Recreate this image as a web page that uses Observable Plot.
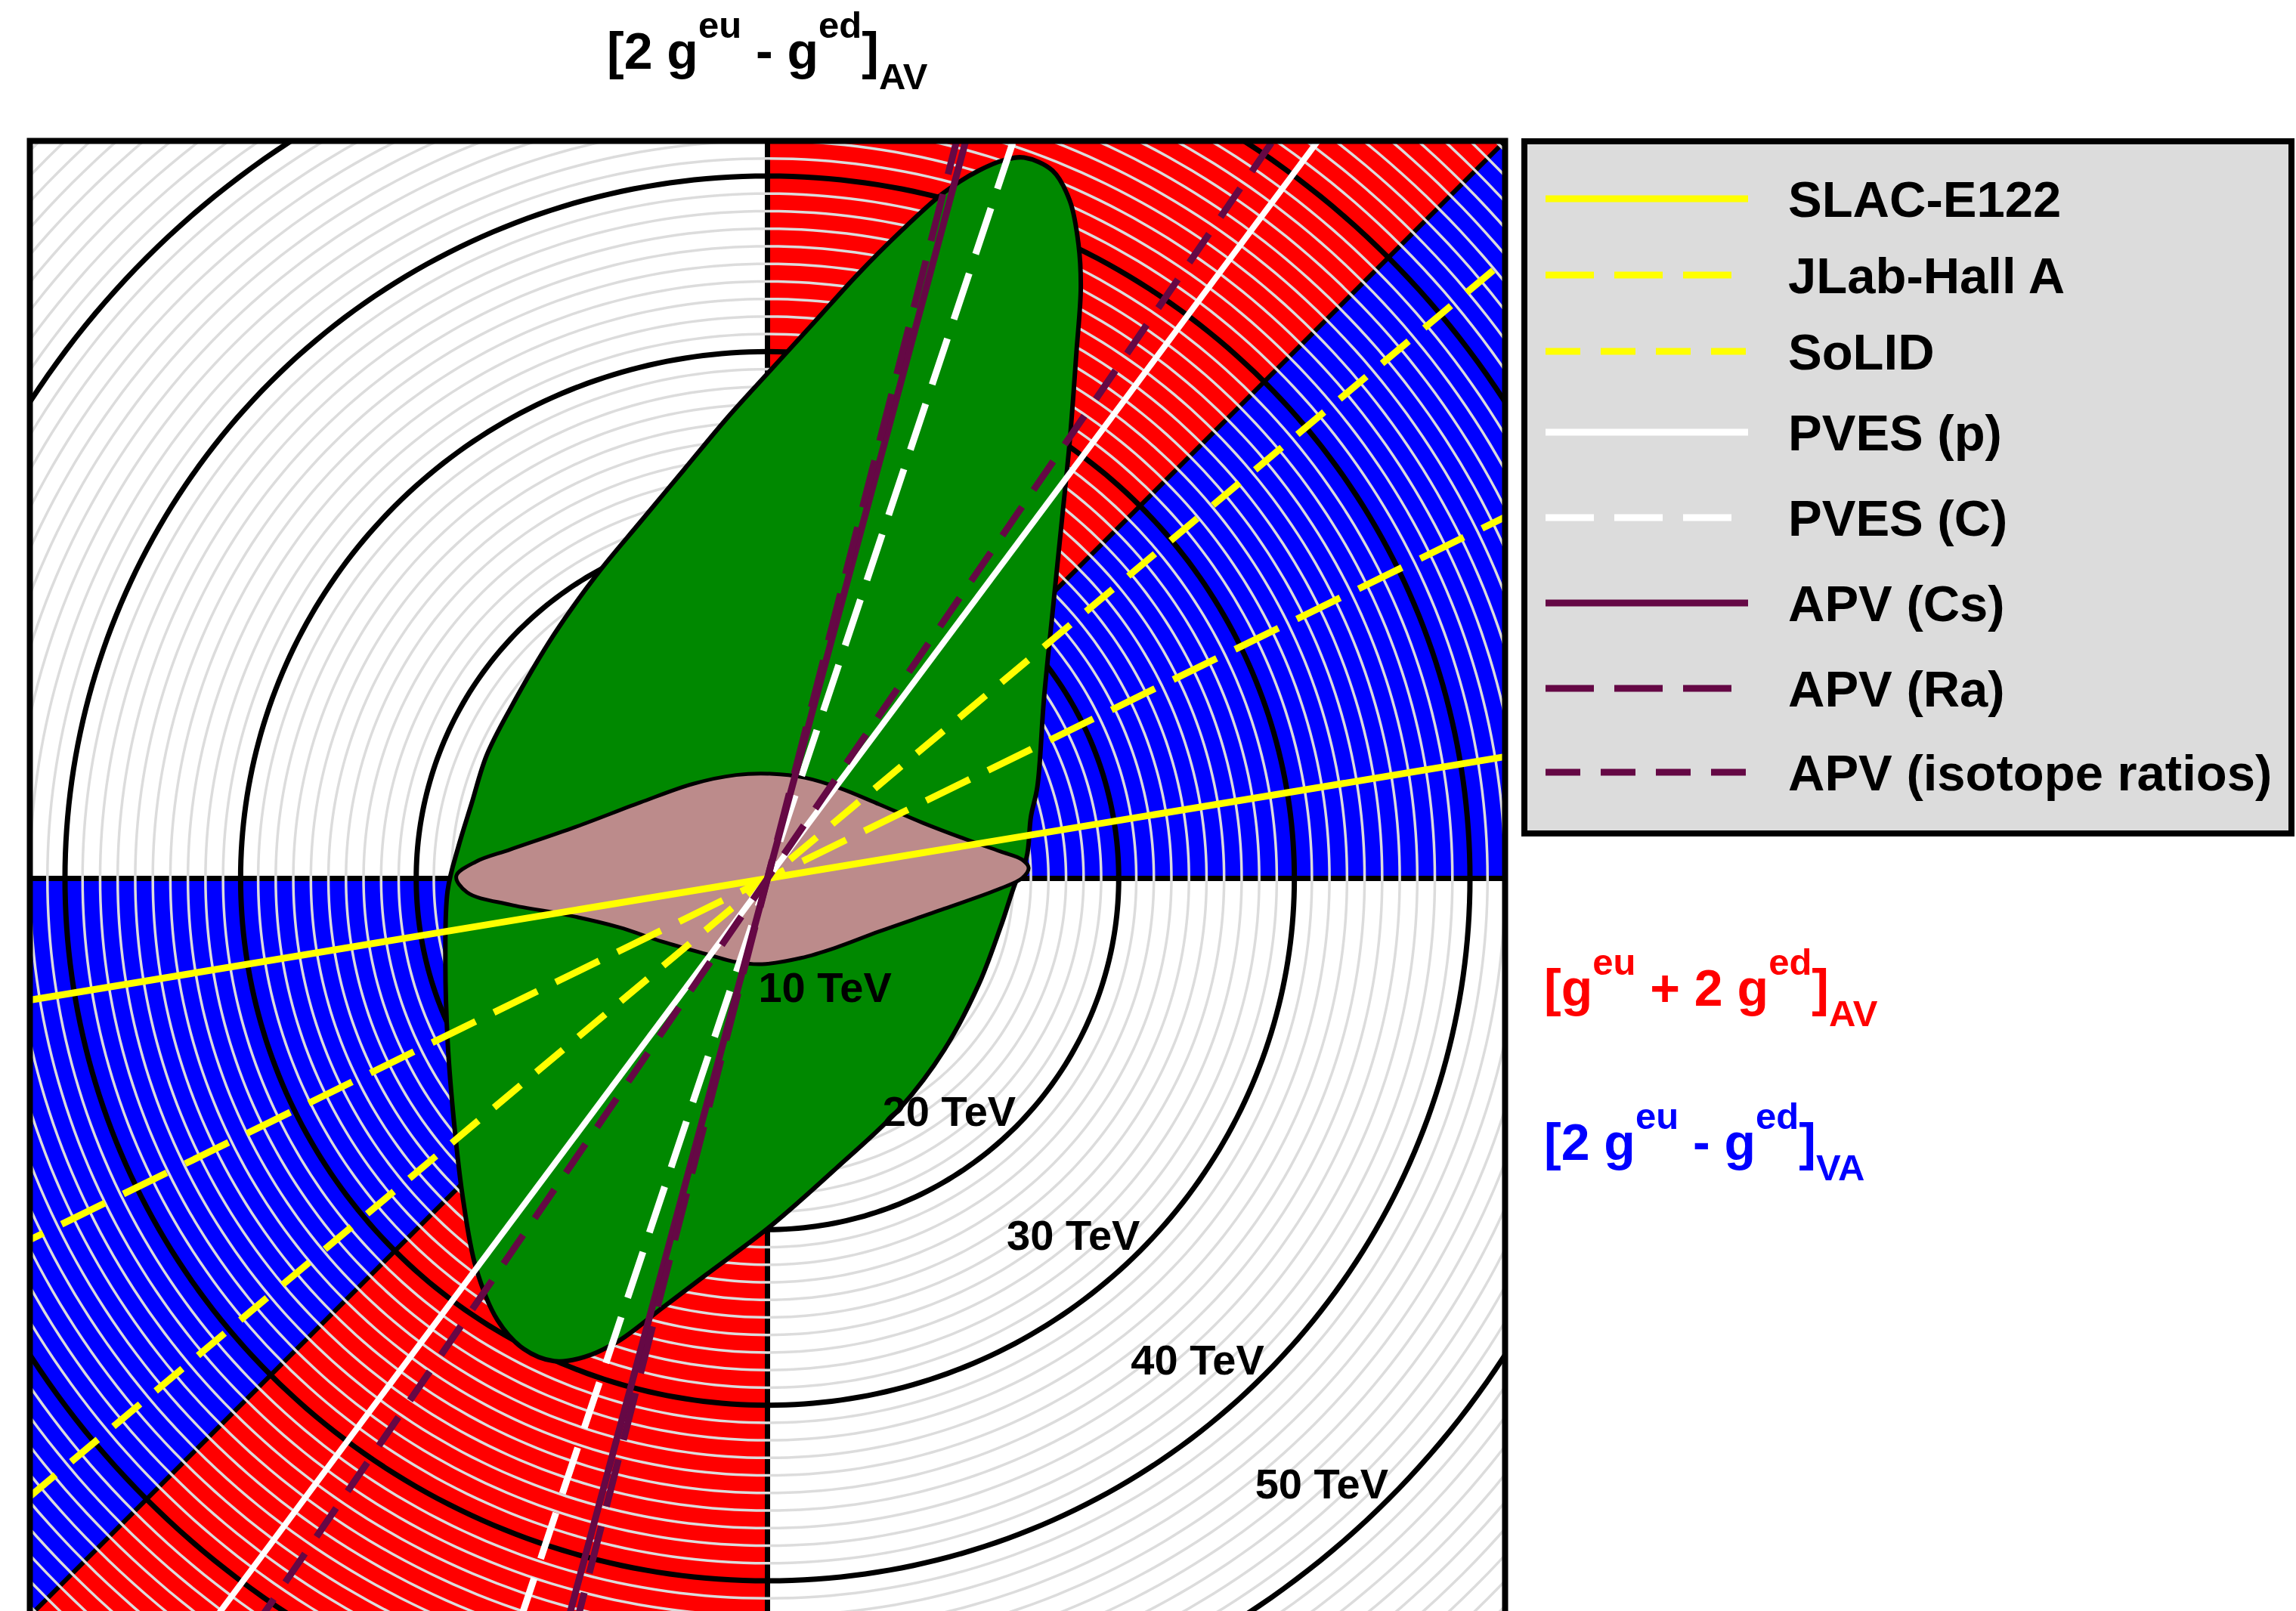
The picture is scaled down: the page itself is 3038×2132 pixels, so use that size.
<!DOCTYPE html>
<html>
<head>
<meta charset="utf-8">
<script src="https://cdn.jsdelivr.net/npm/d3@7"></script>
<script src="https://cdn.jsdelivr.net/npm/@observablehq/plot@0.6"></script>
<style>
  html, body { margin: 0; padding: 0; background: #fff; overflow: hidden; }
  #page { position: relative; width: 3038px; height: 2132px; overflow: hidden; }
  #chart { position: absolute; left: 0; top: 0; }
  #overlay { position: absolute; left: 0; top: 0; }
  #overlay text { white-space: pre; }
</style>
</head>
<body>
<div id="page"><div id="chart"></div></div>
<script>
// ---------------- DATA ----------------
// Experiments (legend order) and the slope of each constraint line through the origin
const experiments = ["SLAC-E122", "JLab-Hall A", "SoLID", "PVES (p)", "PVES (C)", "APV (Cs)", "APV (Ra)", "APV (isotope ratios)"];
const experimentSlopes = [0.165, 0.49, 0.838, 1.34, 3.0, 3.72, 3.9, 1.46];

// Mass-scale rings (TeV): labelled rings and the fine 1 TeV rings
const ringValues = [10, 20, 30, 40, 50];
const ringLabels = ["10 TeV", "20 TeV", "30 TeV", "40 TeV", "50 TeV"];
const fineRingValues = d3.range(1, 61);

// Coloured wedges (polar angle ranges, degrees)
const wedgeKinds = ["VA", "AV", "VA", "AV"];
const wedgeFrom = [0, 45, 180, 225];
const wedgeTo = [45, 90, 225, 270];

// Green region (outline, TeV units)
const greenX = [14.62, 16.23, 17.22, 17.71, 17.84, 17.59, 17.22, 16.73, 16.23, 15.74, 15.37, 15.0, 14.75, 14.13, 13.27, 12.03, 10.06, 7.59, 3.89, 0.18, -3.52, -5.99, -8.46, -10.43, -12.16, -13.89, -15.37, -16.61, -17.35, -17.84, -18.21, -18.34, -18.21, -17.6, -16.86, -15.99, -14.63, -12.16, -9.69, -7.23, -4.76, -2.29, 0.18, 2.65, 5.12, 7.59, 10.06, 12.03, 13.51];
const greenY = [41.05, 40.31, 38.58, 36.11, 33.64, 29.94, 25.0, 20.06, 15.12, 10.18, 5.24, 3.51, 1.18, -0.22, -2.78, -6.04, -9.77, -13.04, -16.53, -19.8, -22.59, -24.46, -26.33, -27.26, -27.49, -26.79, -25.16, -22.13, -18.17, -13.97, -9.31, -4.65, -0.68, 1.8, 4.22, 7.01, 9.69, 13.88, 17.34, 20.31, 23.27, 26.23, 28.95, 31.66, 34.38, 36.85, 39.07, 40.31, 40.92];

// Rosy region (outline, TeV units)
const roseX = [-17.72, -16.61, -14.63, -10.93, -7.23, -4.26, -1.79, 0.18, 2.16, 4.13, 6.36, 8.83, 11.29, 13.27, 14.5, 14.87, 14.5, 13.27, 10.06, 6.36, 3.89, 1.91, -0.31, -1.79, -3.52, -5.99, -8.46, -11.42, -14.63, -17.1];
const roseY = [0.13, 0.95, 1.65, 2.93, 4.33, 5.38, 5.89, 5.96, 5.73, 5.14, 4.22, 3.17, 2.23, 1.53, 1.07, 0.6, 0.02, -0.57, -1.73, -3.02, -3.94, -4.53, -4.88, -4.76, -4.3, -3.6, -2.78, -2.08, -1.5, -0.8];

// ---------------- STYLES ----------------
const wedgeColor = { VA: "#0000ff", AV: "#ff0000" };
const PURPLE = "#650845";
const LONG = "64,27", SHORT = "46,27";
const lineStyle = {
  "SLAC-E122":            { stroke: "#ffff00", dash: null,  width: 9 },
  "JLab-Hall A":          { stroke: "#ffff00", dash: LONG,  width: 9 },
  "SoLID":                { stroke: "#ffff00", dash: SHORT, width: 9 },
  "PVES (p)":             { stroke: "#ffffff", dash: null,  width: 8 },
  "PVES (C)":             { stroke: "#ffffff", dash: LONG,  width: 9 },
  "APV (Cs)":             { stroke: PURPLE,    dash: null,  width: 9 },
  "APV (Ra)":             { stroke: PURPLE,    dash: LONG,  width: 9 },
  "APV (isotope ratios)": { stroke: PURPLE,    dash: SHORT, width: 9 }
};
const FONT = '"Liberation Sans", Arial, Helvetica, sans-serif';

// ---------------- DERIVED TABLES ----------------
const rad = a => a * Math.PI / 180;
function circlePoints(radii) {
  const pts = [];
  for (const r of radii) for (let a = 0; a <= 360; a += 1) pts.push({ r, x: r * Math.cos(rad(a)), y: r * Math.sin(rad(a)) });
  return pts;
}
const FAR = 80;
const wedges = wedgeKinds.map((k, i) => {
  const pts = [{ x: 0, y: 0 }];
  for (let a = wedgeFrom[i]; a <= wedgeTo[i] + 1e-9; a += 2.5) pts.push({ x: FAR * Math.cos(rad(a)), y: FAR * Math.sin(rad(a)) });
  return { kind: k, pts };
});
// black boundary between the two wedge colours (45° and 225°)
const boundaryAngles = [wedgeTo[0], wedgeTo[2]];
const boundary = boundaryAngles.map(a => ({ x: FAR * Math.cos(rad(a)), y: FAR * Math.sin(rad(a)) }));
const green = greenX.map((x, i) => ({ x, y: greenY[i] }));
const rose = roseX.map((x, i) => ({ x, y: roseY[i] }));
const linesData = experiments.map((name, i) => {
  const t = Math.atan(experimentSlopes[i]);
  return { name, pts: [{ x: -FAR * Math.cos(t), y: -FAR * Math.sin(t) }, { x: FAR * Math.cos(t), y: FAR * Math.sin(t) }] };
});
const labelData = ringValues.map((r, i) => ({ r, label: ringLabels[i], x: r * Math.cos(rad(-45)), y: r * Math.sin(rad(-45)) }));

// ---------------- PLOT ----------------
const marks = [];
for (const w of wedges) marks.push(Plot.line(w.pts, { x: "x", y: "y", fill: wedgeColor[w.kind], stroke: "none", curve: "linear-closed", clip: true }));
marks.push(Plot.ruleX([0], { stroke: "black", strokeWidth: 7 }));
marks.push(Plot.ruleY([0], { stroke: "black", strokeWidth: 7 }));
marks.push(Plot.line(boundary, { x: "x", y: "y", stroke: "black", strokeWidth: 6, clip: true }));
marks.push(Plot.line(circlePoints(fineRingValues), { x: "x", y: "y", z: "r", stroke: "#dcdcdc", strokeWidth: 3.5, clip: true }));
marks.push(Plot.line(circlePoints(ringValues), { x: "x", y: "y", z: "r", stroke: "black", strokeWidth: 7, clip: true }));
marks.push(Plot.line(green, { x: "x", y: "y", fill: "#008800", stroke: "black", strokeWidth: 6, curve: "catmull-rom-closed", clip: true }));
marks.push(Plot.line(rose, { x: "x", y: "y", fill: "#bc8b8b", stroke: "black", strokeWidth: 5, curve: "catmull-rom-closed", clip: true }));
for (const l of linesData) {
  const s = lineStyle[l.name];
  const opts = { x: "x", y: "y", stroke: s.stroke, strokeWidth: s.width, strokeLinecap: "butt", clip: true };
  if (s.dash) opts.strokeDasharray = s.dash;
  marks.push(Plot.line(l.pts, opts));
}
marks.push(Plot.text(labelData, { x: "x", y: "y", text: "label", textAnchor: "end", lineAnchor: "middle", dy: -19, fontSize: 56, fontWeight: "bold", fontFamily: FONT, fill: "black" }));
marks.push(Plot.frame({ stroke: "black", strokeWidth: 8 }));

const chart = Plot.plot({
  width: 2000, height: 2150,
  marginLeft: 39, marginRight: 9, marginTop: 186, marginBottom: 12,
  x: { domain: [-42, 42], axis: null },
  y: { domain: [-42, 42], axis: null },
  style: { background: "transparent", overflow: "visible" },
  marks
});
document.getElementById("chart").appendChild(chart);

// ---------------- TITLE, SIDE LABELS, LEGEND ----------------
const svg = d3.select("#page").append("svg").attr("id", "overlay")
  .attr("width", 3038).attr("height", 2132)
  .attr("font-family", FONT).attr("font-weight", "bold");

function rich(x, y, parts, fill) {
  const t = svg.append("text").attr("x", x).attr("y", y).attr("fill", fill);
  let cur = 0;
  for (const p of parts) {
    const shift = p.k === "sup" ? -41 : p.k === "sub" ? 27 : 0;
    t.append("tspan").attr("dy", shift - cur).attr("font-size", p.k ? 49 : 68).text(p.t);
    cur = shift;
  }
}
rich(803, 91, [{ t: "[2 g" }, { t: "eu", k: "sup" }, { t: " - g" }, { t: "ed", k: "sup" }, { t: "]" }, { t: "AV", k: "sub" }], "black");
rich(2043, 1331, [{ t: "[g" }, { t: "eu", k: "sup" }, { t: " + 2 g" }, { t: "ed", k: "sup" }, { t: "]" }, { t: "AV", k: "sub" }], "#ff0000");
rich(2043, 1535, [{ t: "[2 g" }, { t: "eu", k: "sup" }, { t: " - g" }, { t: "ed", k: "sup" }, { t: "]" }, { t: "VA", k: "sub" }], "#0000ff");

svg.append("rect").attr("x", 2017).attr("y", 187).attr("width", 1015).attr("height", 916)
  .attr("fill", "#dcdcdc").attr("stroke", "black").attr("stroke-width", 8);
const legendY = [263, 364, 465, 572, 685, 798, 911, 1022];
experiments.forEach((name, i) => {
  const s = lineStyle[name];
  const ln = svg.append("line").attr("x1", 2045).attr("x2", 2313).attr("y1", legendY[i]).attr("y2", legendY[i])
    .attr("stroke", s.stroke).attr("stroke-width", 9);
  if (s.dash) ln.attr("stroke-dasharray", s.dash);
  svg.append("text").attr("x", 2366).attr("y", legendY[i] + 24).attr("font-size", 67).attr("fill", "black").text(name);
});
</script>
</body>
</html>
